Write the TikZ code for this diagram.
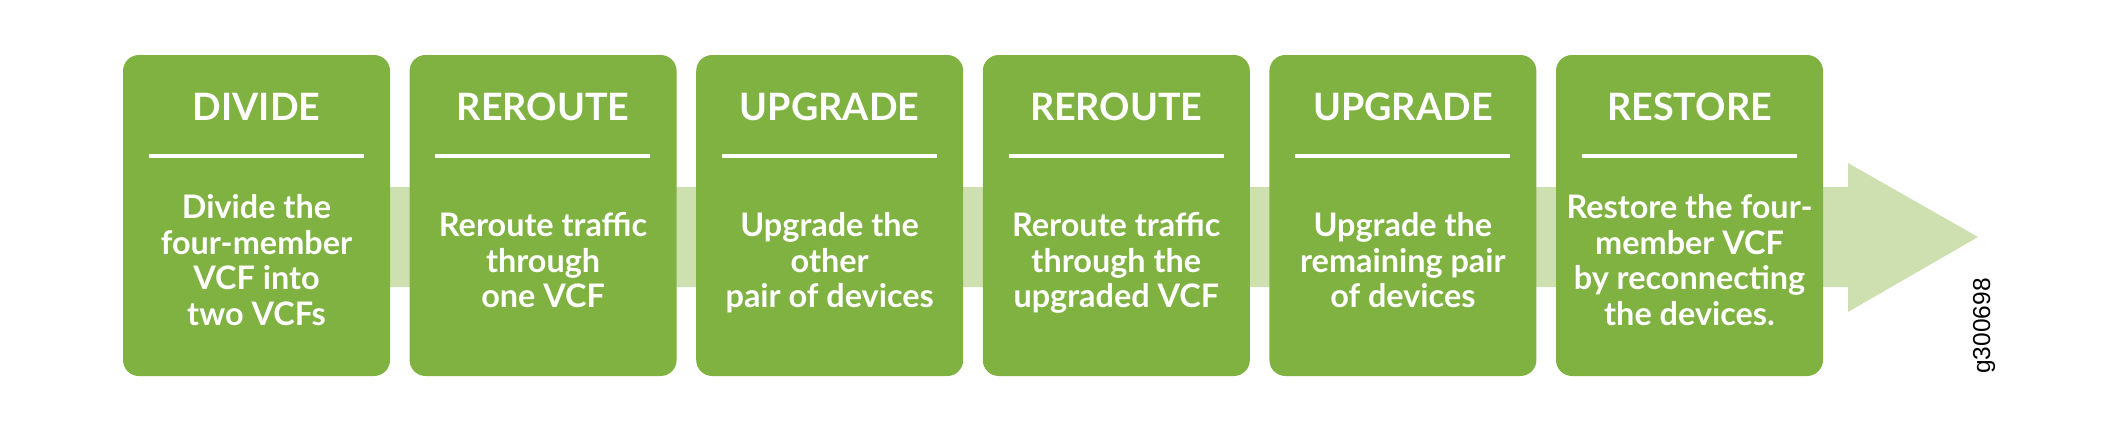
\documentclass[tikz,border=0pt]{standalone}
\usepackage{fontspec}
\setmainfont{Lato}
\newfontfamily\idfont{Liberation Sans}
\definecolor{boxgreen}{RGB}{128,178,66}
\definecolor{bandgreen}{RGB}{207,224,176}
\begin{document}
\begin{tikzpicture}[x=1pt,y=-1pt,
  stepbox/.style={fill=boxgreen, draw=none, rounded corners=16pt, minimum width=267pt, minimum height=321pt, inner sep=0pt},
  head/.style={text=white, font=\fontsize{37.7}{40}\selectfont\bfseries, anchor=base, inner sep=0pt},
  body/.style={text=white, font=\fontsize{32.4}{35.6}\selectfont\bfseries, align=center, anchor=center, inner sep=0pt, execute at begin node=\strut, execute at end node=\strut},
  rule/.style={draw=white, line width=4pt}]
\useasboundingbox (0,0) rectangle (2101,434);
% band arrow
\fill[bandgreen] (300,187) -- (1848,187) -- (1848,163) -- (1978,237) -- (1848,312) -- (1848,287) -- (300,287) -- cycle;
% boxes
\node[stepbox] (b1) at (256.5,215.5) {};
\node[stepbox] (b2) at (543.1,215.5) {};
\node[stepbox] (b3) at (829.7,215.5) {};
\node[stepbox] (b4) at (1116.3,215.5) {};
\node[stepbox] (b5) at (1402.9,215.5) {};
\node[stepbox] (b6) at (1689.5,215.5) {};
% headers
\node[head] (h1) at (256.5,120) {DIVIDE};
\node[head] (h2) at (543.1,120) {REROUTE};
\node[head] (h3) at (829.7,120) {UPGRADE};
\node[head] (h4) at (1116.3,120) {REROUTE};
\node[head] (h5) at (1402.9,120) {UPGRADE};
\node[head] (h6) at (1689.5,120) {RESTORE};
% rules
\foreach \b in {b1,b2,b3,b4,b5,b6}
  \draw[rule] ([xshift=26pt,yshift=-101pt]\b.north west) -- ++(215,0);
% bodies
\node[body] (t1) at (256.5,265.4) {Divide the\\four-member\\VCF into\\two VCFs};
\node[body] (t2) at (543.1,265.4) {Reroute traffic\\through\\one VCF};
\node[body] (t3) at (829.7,265.4) {Upgrade the\\other\\pair of devices};
\node[body] (t4) at (1116.3,265.4) {Reroute traffic\\through the\\upgraded VCF};
\node[body] (t5) at (1402.9,265.4) {Upgrade the\\remaining pair\\of devices};
\node[body] (t6) at (1689.5,265.4) {Restore the four-\\member VCF\\by reconnecting\\the devices.};
% figure id
\node[rotate=90, font=\idfont\fontsize{24.5}{26}\selectfont, inner sep=0pt] (id) at (1984,326) {g300698};
\end{tikzpicture}
\end{document}
